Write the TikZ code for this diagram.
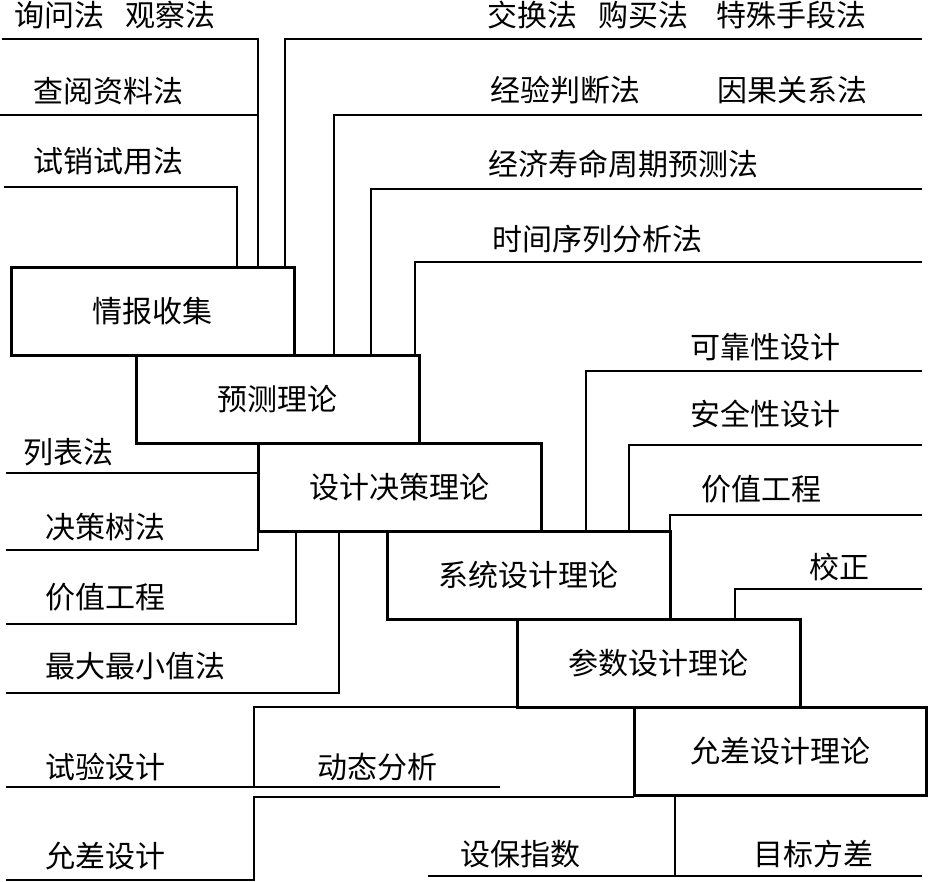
\documentclass[tikz,border=0pt]{standalone}
\usepackage{fontspec}
\setmainfont{Noto Sans CJK SC}
\usetikzlibrary{positioning}

\begin{document}
\begin{tikzpicture}[
    x=1pt, y=-1pt,
    stage/.style={draw, line width=3pt, minimum width=283pt, minimum height=88pt,
        inner sep=0pt, outer sep=0pt, font=\fontsize{30}{32}\selectfont},
    method/.style={anchor=west, inner sep=0pt, font=\fontsize{30}{32}\selectfont},
    rule/.style={line width=1.3pt}
]
    \useasboundingbox (0,0) rectangle (929,881);

    \node[stage, anchor=north west] (b1) at (11,267) {情报收集};
    \node[stage, below right=0pt and 125pt of b1.south west] (b2) {预测理论};
    \node[stage, below right=0pt and 122pt of b2.south west] (b3) {设计决策理论};
    \node[stage, below right=0pt and 129pt of b3.south west] (b4) {系统设计理论};
    \node[stage, below right=0pt and 130pt of b4.south west] (b5) {参数设计理论};
    \node[stage, below right=0pt and 117pt of b5.south west, minimum width=292pt] (b6) {允差设计理论};

    \node[method] (m1) at (14,15) {询问法\hspace{0.7em}观察法};
    \node[method] (m2) at (33,91) {查阅资料法};
    \node[method] (m3) at (33,161) {试销试用法};
    \node[method] (m4) at (487,15) {交换法\hspace{0.7em}购买法\hspace{0.95em}特殊手段法};
    \node[method] (m5) at (490,90) {经验判断法};
    \node[method] (m6) at (717,90) {因果关系法};
    \node[method] (m7) at (488,164) {经济寿命周期预测法};
    \node[method] (m8) at (492,239) {时间序列分析法};
    \node[method] (m9) at (690,347) {可靠性设计};
    \node[method] (m10) at (690,414) {安全性设计};
    \node[method] (m11) at (701,489) {价值工程};
    \node[method] (m12) at (809,567) {校正};
    \node[method] (m13) at (23,452) {列表法};
    \node[method] (m14) at (45,527) {决策树法};
    \node[method] (m15) at (45,597) {价值工程};
    \node[method] (m16) at (45,666) {最大最小值法};
    \node[method] (m17) at (45,767) {试验设计};
    \node[method] (m18) at (317,767) {动态分析};
    \node[method] (m19) at (45,856) {允差设计};
    \node[method] (m20) at (460,854) {设保指数};
    \node[method] (m21) at (753,854) {目标方差};

    \coordinate (e1) at (2,39);
    \coordinate (e2) at (0,115);
    \coordinate (e3) at (4,187);
    \coordinate (e4) at (922,39);
    \coordinate (e5) at (922,115);
    \coordinate (e6) at (922,189);
    \coordinate (e7) at (922,262);
    \coordinate (e8) at (6,473);
    \coordinate (e9) at (6,550);
    \coordinate (e10) at (6,624);
    \coordinate (e11) at (6,693);
    \coordinate (e12) at (922,371);
    \coordinate (e13) at (922,445);
    \coordinate (e14) at (922,515);
    \coordinate (e15) at (922,589);
    \coordinate (e16) at (6,787);
    \coordinate (e17) at (500,787);
    \coordinate (e18) at (6,880);
    \coordinate (e19) at (428,876);
    \coordinate (e20) at (922,876);
    \coordinate (j1) at ([xshift=247]b1.north west);
    \coordinate (j2) at (254,787);
    \coordinate (j3) at ([xshift=41]b6.south west);
    \coordinate (j4) at ([yshift=-2]b6.south west);

    \draw[rule] (j1) |- (e1);
    \draw[rule] (e2) -- (e2 -| j1);
    \draw[rule] ([xshift=226]b1.north west) |- (e3);
    \draw[rule] ([xshift=274]b1.north west) |- (e4);
    \draw[rule] ([xshift=198]b2.north west) |- (e5);
    \draw[rule] ([xshift=235]b2.north west) |- (e6);
    \draw[rule] ([xshift=279]b2.north west) |- (e7);
    \draw[rule] (e8) -- (e8 -| b3.west);
    \draw[rule] (b3.south west) |- (e9);
    \draw[rule] ([xshift=38]b3.south west) |- (e10);
    \draw[rule] ([xshift=81]b3.south west) |- (e11);
    \draw[rule] ([xshift=199]b4.north west) |- (e12);
    \draw[rule] ([xshift=242]b4.north west) |- (e13);
    \draw[rule] (b4.north east) |- (e14);
    \draw[rule] ([xshift=218]b5.north west) |- (e15);
    \draw[rule] (b5.south west) -| (j2);
    \draw[rule] (e16) -- (e17);
    \draw[rule] (j4) -- (j4 -| j2) |- (e18);
    \draw[rule] (j3) -- (j3 |- e20);
    \draw[rule] (e19) -- (e20);
\end{tikzpicture}
\end{document}
